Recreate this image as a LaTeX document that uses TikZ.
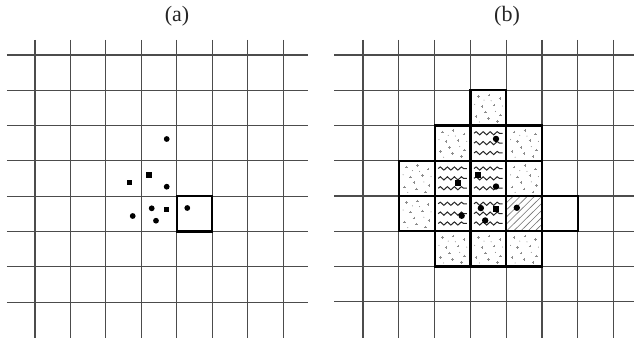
\documentclass[tikz,border=0pt]{standalone}
\usepackage{fontspec}
\setmainfont{Liberation Serif}
\usetikzlibrary{decorations.pathmorphing}
\begin{document}
\begin{tikzpicture}[x=1pt,y=-1pt,
  gridline/.style={draw=black!70,line width=1.1pt},
  boldcell/.style={draw=black,line width=2.2pt},
  lbl/.style={font=\fontsize{22}{26}\selectfont,inner sep=0pt,text=black!85},
  ptc/.style={fill=black,draw=none},
  wave/.style={draw=black!85,line width=1pt,decorate,decoration={snake,segment length=7pt,amplitude=1.6pt}},
  dotted cell/.pic={
    \foreach \a/\b in {0.22/0.18,0.52/0.14,0.82/0.24,0.32/0.46,0.66/0.42,0.16/0.74,0.5/0.8,0.84/0.7,0.42/0.62,0.75/0.88}{
      \draw[black!45,line width=0.5pt] (\a-0.035,\b) -- (\a+0.035,\b) (\a,\b-0.035) -- (\a,\b+0.035);}
    \foreach \a/\b in {0.38/0.28,0.7/0.6,0.25/0.9,0.9/0.45,0.12/0.4,0.58/0.3}{
      \fill[black!50] (\a,\b) circle (0.5pt);}
  },
  wavy cell/.pic={
    \foreach \b in {0.22,0.5,0.78}{\draw[wave] (0.1,\b) -- (0.9,\b);}
  },
  hatch cell/.pic={
    \begin{scope}
    \clip (0,0) rectangle (1,1);
    \foreach \c in {0.2,0.4,...,1.9}{\draw[black!55,line width=0.6pt] (\c,0) -- (\c-1,1);}
    \end{scope}
  }]
\useasboundingbox (0,0) rectangle (634,342);
\node[lbl] (la) at (177,16) {(a)};
\node[lbl] (lb) at (507,16) {(b)};
% left panel
\begin{scope}[shift={(35,55)},x=35.45pt,y=-35.3pt]
  \foreach \i in {0,...,7}{
    \draw[gridline] (\i,-0.43) -- (\i,8.02);
    \draw[gridline] (-0.79,\i) -- (7.7,\i);}
  \draw[boldcell] (4,4) rectangle (5,5);
  \foreach \a/\b in {3.715/2.380,3.715/3.731,3.292/4.343,4.296/4.334,2.756/4.561,3.413/4.694}{
    \fill[ptc] (\a,\b) circle (2.9pt);}
  \foreach \a/\b in {3.216/3.399,2.660/3.618,3.715/4.371}{
    \fill[ptc] (\a,\b) ++(-2.6pt,-2.6pt) rectangle ++(5.2pt,5.2pt);}
\end{scope}
% right panel
\begin{scope}[shift={(363,55)},x=35.8pt,y=-35.25pt]
  \foreach \i in {0,...,7}{
    \draw[gridline] (\i,-0.43) -- (\i,8.03);
    \draw[gridline] (-0.81,\i) -- (7.6,\i);}
  \foreach \c/\r in {3/1,2/2,4/2,1/3,4/3,1/4,2/5,3/5,4/5}{
    \pic at (\c,\r) {dotted cell};}
  \foreach \c/\r in {3/2,2/3,3/3,2/4,3/4}{
    \pic at (\c,\r) {wavy cell};}
  \pic at (4,4) {hatch cell};
  \foreach \a/\b in {3.715/2.380,3.715/3.731,3.292/4.343,4.296/4.334,2.756/4.561,3.413/4.694}{
    \fill[ptc] (\a,\b) circle (3.2pt);}
  \foreach \a/\b in {3.216/3.399,2.660/3.618,3.715/4.371}{
    \fill[ptc] (\a,\b) ++(-3pt,-3pt) rectangle ++(6pt,6pt);}
  \foreach \c/\r in {3/1,2/2,3/2,4/2,1/3,2/3,3/3,4/3,1/4,2/4,3/4,4/4,5/4,2/5,3/5,4/5}{
    \draw[boldcell] (\c,\r) rectangle ++(1,1);}
\end{scope}
\end{tikzpicture}
\end{document}
